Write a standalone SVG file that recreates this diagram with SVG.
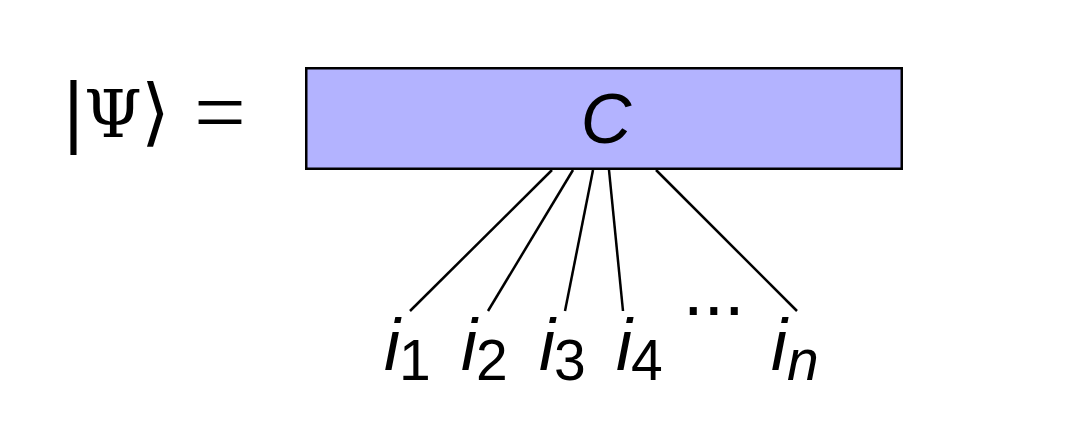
<svg xmlns="http://www.w3.org/2000/svg" width="1086" height="431" viewBox="0 0 1086 431">
<style>
.mi{font-family:"Liberation Sans","DejaVu Sans",sans-serif;font-style:italic;font-size:72px;fill:#000}
.sub{font-family:"Liberation Sans","DejaVu Sans",sans-serif;font-size:57px;fill:#000}
.subi{font-family:"Liberation Sans","DejaVu Sans",sans-serif;font-style:italic;font-size:57px;fill:#000}
.conn line{stroke:#000;stroke-width:2.5;fill:none}
</style>
<rect width="1086" height="431" fill="#fff"/>
<g id="lhs">
<text x="61" y="137" style="font-family:'DejaVu Sans',sans-serif;font-size:74px">|</text>
<text x="84" y="137" style="font-family:'DejaVu Serif',serif;font-size:66px">Ψ</text>
<text x="141" y="137" style="font-family:'DejaVu Sans',sans-serif;font-size:74px">⟩</text>
<text x="194" y="143" style="font-family:'Liberation Serif',serif;font-size:92px">=</text>
</g>
<g id="C">
<rect x="306.25" y="68.25" width="595.5" height="100.5" fill="#b3b3ff" stroke="#000" stroke-width="2.5"/>
<text x="606" y="143" text-anchor="middle" class="mi" style="font-size:70px">C</text>
</g>
<g class="conn" id="connectors">
<line x1="552" y1="170" x2="410" y2="311"/>
<line x1="573" y1="170" x2="488" y2="311"/>
<line x1="593" y1="170" x2="565" y2="311"/>
<line x1="609" y1="170" x2="623" y2="311"/>
<line x1="656" y1="170" x2="797" y2="311"/>
</g>
<g id="i1"><text x="384" y="370" class="mi">i</text><text x="399" y="380" class="sub">1</text></g>
<g id="i2"><text x="461" y="370" class="mi">i</text><text x="476" y="380" class="sub">2</text></g>
<g id="i3"><text x="539" y="370" class="mi">i</text><text x="554" y="380" class="sub">3</text></g>
<g id="i4"><text x="616" y="370" class="mi">i</text><text x="631" y="380" class="sub">4</text></g>
<g id="dots"><text x="683" y="315" class="sub" style="font-size:74px">...</text></g>
<g id="in"><text x="771" y="370" class="mi">i</text><text x="787" y="380" class="subi">n</text></g>
</svg>
